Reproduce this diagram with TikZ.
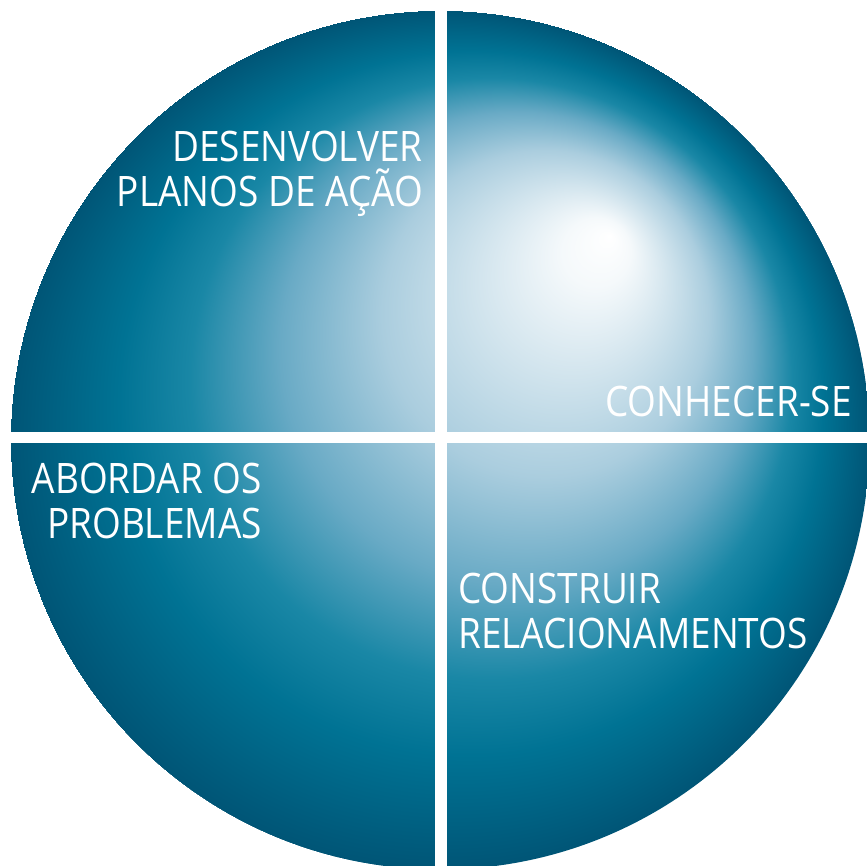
\documentclass[tikz,border=0pt]{standalone}
\usepackage{fontspec}
\setmainfont[FakeStretch=0.88]{Open Sans}
\usepackage{tikz}
\usetikzlibrary{positioning}

% light spot up and to the right, dark teal rim
\pgfdeclareradialshading{globe}{\pgfpoint{9.9bp}{11.9bp}}{%
  rgb(0bp)=(1,1,1);
  rgb(2bp)=(0.96,0.976,0.984);
  rgb(9.5bp)=(0.667,0.804,0.871);
  rgb(13.75bp)=(0.41,0.667,0.773);
  rgb(17.5bp)=(0.1,0.53,0.65);
  rgb(20.5bp)=(0,0.45,0.58);
  rgb(25bp)=(0,0.333,0.463)}

\tikzset{
  quad text/.style={text=white, inner sep=0pt, font=\fontsize{31.5}{33.75}\selectfont},
  gap bar/.style={fill=white, draw=none},
}

\begin{document}
\begin{tikzpicture}[x=0.75pt,y=0.75pt,yscale=-1,xscale=1]
\useasboundingbox (0,0) rectangle (867,866);
\clip (0,0) rectangle (867,866);

%Shape: Circle [globe]
\shade [shading=globe] (440,440) circle [radius=429.5];
%Shape: Rectangle [vertical gap]
\path [gap bar] (435.3,0) rectangle (446.7,866);
%Shape: Rectangle [horizontal gap]
\path [gap bar] (0,431.7) rectangle (867,442.7);

% Text Node
\node (plans) [quad text, anchor=north east, align=right] at (423,131) {DESENVOLVER\\PLANOS DE AÇÃO};
% Text Node
\node (self) [quad text, anchor=north east] at (852,386) {CONHECER-SE};
% Text Node
\node (problems) [quad text, anchor=north east, align=right] at (262,463) {ABORDAR OS\\PROBLEMAS};
% Text Node
\node (links) [quad text, anchor=north west, align=left] at (458,573) {CONSTRUIR\\RELACIONAMENTOS};

\end{tikzpicture}
\end{document}
